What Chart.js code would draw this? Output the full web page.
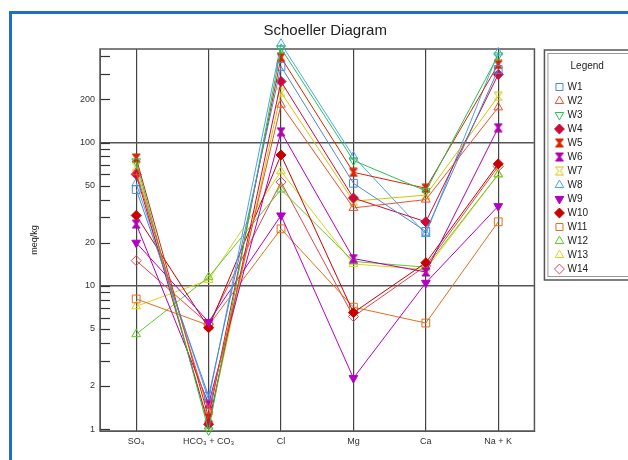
<!DOCTYPE html>
<html>
<head>
<meta charset="utf-8">
<script src="https://cdn.jsdelivr.net/npm/chart.js@4.4.1/dist/chart.umd.min.js"></script>
<style>
  html, body { margin: 0; padding: 0; background: #fff; }
  #wrap { width: 628px; height: 460px; }
</style>
</head>
<body>
<div id="wrap"><canvas id="chart" width="628" height="460"></canvas></div>
<script>
// ---- data (meq/kg) ----
const categories = ['SO\u2084', 'HCO\u2083 + CO\u2083', 'Cl', 'Mg', 'Ca', 'Na + K'];
const tickValues = [1, 2, 3, 4, 5, 6, 7, 8, 9, 10, 20, 30, 40, 50, 60, 70, 80, 90, 100, 200, 300, 400];
const labeledTicks = [1, 2, 5, 10, 20, 50, 100, 200];
const gridValues = [10, 100];
const seriesNames = ['W1', 'W2', 'W3', 'W4', 'W5', 'W6', 'W7', 'W8', 'W9', 'W10', 'W11', 'W12', 'W13', 'W14'];

const w1  = [47,  1.7,  340, 52,   24,   324];
const w2  = [62,  1.35, 184, 35,   40,   176];
const w3  = [74,  0.98, 455, 75,   46,   406];
const w4  = [60,  1.08, 267, 41,   28,   299];
const w5  = [78,  1.2,  393, 62,   48,   351];
const w6  = [27,  1.5,  119, 15.5, 12.5, 127];
const w7  = [68,  1.05, 224, 39,   43,   210];
const w8  = [52,  1.6,  490, 80,   23,   426];
const w9  = [20,  5.6,  31,  2.27, 10.5, 36];
const w10 = [31,  5.1,  82,  6.5,  14.5, 71];
const w11 = [8.1, 5.3,  25,  7.1,  5.5,  28];
const w12 = [4.6, 11.5, 47,  14.8, 13.5, 60];
const w13 = [7.2, 11,   63,  14.2, 13,   60];
const w14 = [15,  5.4,  53,  6.1,  13.8, 68];
const seriesValues = [w1, w2, w3, w4, w5, w6, w7, w8, w9, w10, w11, w12, w13, w14];

// ---- marker styles ----
function hourglass(color, filled) {
    const c = document.createElement('canvas');
    c.width = c.height = 10;
    const g = c.getContext('2d');
    g.beginPath();
    g.moveTo(1, 1); g.lineTo(9, 1); g.lineTo(5.8, 5);
    g.lineTo(9, 9); g.lineTo(1, 9); g.lineTo(4.2, 5);
    g.closePath();
    g.strokeStyle = color;
    g.lineWidth = 1;
    if (filled) { g.fillStyle = color; g.fill(); }
    g.stroke();
    return c;
}

const markers = [
    { color: '#4f86d6', style: 'rect',     filled: false, rot: 0 },
    { color: '#e5532f', style: 'triangle', filled: false, rot: 0 },
    { color: '#27c24f', style: 'triangle', filled: false, rot: 180 },
    { color: '#cc0a3c', style: 'rectRot',  filled: true,  rot: 0 },
    { color: '#d82400', style: 'hour',     filled: true,  rot: 0 },
    { color: '#b000b0', style: 'hour',     filled: true,  rot: 0 },
    { color: '#d2c600', style: 'hour',     filled: false, rot: 0 },
    { color: '#4aa6e6', style: 'triangle', filled: false, rot: 0 },
    { color: '#b400c4', style: 'triangle', filled: true,  rot: 180 },
    { color: '#c80000', style: 'rectRot',  filled: true,  rot: 0 },
    { color: '#e0701c', style: 'rect',     filled: false, rot: 0 },
    { color: '#62c82a', style: 'triangle', filled: false, rot: 0 },
    { color: '#dcd21e', style: 'triangle', filled: false, rot: 0 },
    { color: '#e04848', style: 'rectRot',  filled: false, rot: 0 },
];

const datasets = seriesNames.map((name, i) => {
    const m = markers[i];
    const ps = m.style === 'hour' ? hourglass(m.color, m.filled) : m.style;
    return {
        label: name,
        data: seriesValues[i],
        borderColor: m.color,
        backgroundColor: m.filled ? m.color : 'rgba(255,255,255,0)',
        borderWidth: 1,
        pointStyle: ps,
        pointRotation: m.rot,
        pointRadius: m.style === 'rect' ? 5.5 : 5,
        pointBorderWidth: 1,
        pointBorderColor: m.color,
        pointBackgroundColor: m.filled ? m.color : 'rgba(255,255,255,0)',
        tension: 0,
        clip: false,
    };
});

// window frame, plot box, inner minor ticks, legend box
const decorations = {
    id: 'decorations',
    afterLayout(chart) {
        // nudge chart title and legend title a little to the right, like the original
        if (chart.titleBlock) chart.titleBlock.right += 16;
        if (chart.legend) {
            chart.legend.width += 24;
            chart.legend.right += 24;
        }
    },
    beforeDraw(chart) {
        const ctx = chart.ctx;
        ctx.save();
        ctx.fillStyle = '#1f6fc6';
        ctx.fillRect(9, 11, 640, 3);
        ctx.fillRect(9, 11, 3, 460);
        ctx.restore();
    },
    beforeDatasetsDraw(chart) {
        const {ctx, chartArea: a} = chart;
        const y = chart.scales.y;
        ctx.save();
        ctx.strokeStyle = '#333';
        ctx.lineWidth = 1.2;
        tickValues.forEach(v => {
            const py = Math.round(y.getPixelForValue(v)) + 0.5;
            ctx.beginPath();
            ctx.moveTo(a.left, py);
            ctx.lineTo(a.left + 10, py);
            ctx.stroke();
        });
        ctx.strokeStyle = '#555';
        ctx.lineWidth = 1.5;
        ctx.strokeRect(a.left, a.top, a.right - a.left, a.bottom - a.top);
        ctx.restore();
    },
    afterDraw(chart) {
        const ctx = chart.ctx;
        const lg = chart.legend;
        const x0 = lg.left - 8;
        ctx.save();
        ctx.strokeStyle = '#555';
        ctx.lineWidth = 1.5;
        ctx.strokeRect(x0, 50, 700 - x0, 230);
        ctx.strokeStyle = '#999';
        ctx.lineWidth = 1;
        ctx.strokeRect(x0 + 3.5, 53.5, 700 - x0, 223);
        ctx.restore();
    }
};

const tickFont = { family: 'Liberation Sans, Arial, sans-serif', size: 9 };

new Chart(document.getElementById('chart'), {
    type: 'line',
    data: { labels: categories, datasets },
    plugins: [decorations],
    options: {
        responsive: false,
        animation: false,
        events: [],
        layout: { padding: { left: 12, top: 14, right: 30, bottom: 0 } },
        plugins: {
            title: {
                display: true,
                text: 'Schoeller Diagram',
                color: '#222',
                fullSize: false,
                font: { family: 'Liberation Sans, Arial, sans-serif', size: 15, weight: 'normal' },
                padding: { top: 8, bottom: 9 },
            },
            legend: {
                position: 'right',
                align: 'start',
                fullSize: false,
                labels: {
                    usePointStyle: true,
                    boxWidth: 6,
                    boxHeight: 7,
                    padding: 4,
                    color: '#222',
                    font: { family: 'Liberation Sans, Arial, sans-serif', size: 10 },
                },
                title: {
                    display: true,
                    text: 'Legend',
                    color: '#222',
                    font: { family: 'Liberation Sans, Arial, sans-serif', size: 10 },
                    padding: { top: 12, bottom: 5 },
                },
            },
            tooltip: { enabled: false },
        },
        scales: {
            x: {
                type: 'category',
                offset: true,
                grid: { offset: false, color: '#444', lineWidth: 1.2, drawTicks: false },
                border: { display: true, color: '#555' },
                ticks: { padding: 5, color: '#333', font: tickFont, maxRotation: 0 },
                afterFit: s => { s.height = 29; },
            },
            y: {
                type: 'logarithmic',
                position: 'left',
                min: 0.97,
                max: 450,
                grid: {
                    color: c => gridValues.includes(c.tick.value) ? '#555' : 'rgba(0,0,0,0)',
                    lineWidth: 1.5,
                    drawTicks: false,
                },
                border: { display: true, color: '#555' },
                ticks: {
                    padding: 5,
                    color: '#333',
                    font: tickFont,
                    autoSkip: false,
                    callback: v => labeledTicks.includes(v) ? String(v) : '',
                },
                afterBuildTicks: s => { s.ticks = tickValues.map(v => ({ value: v })); },
                title: {
                    display: true,
                    text: 'meq/kg',
                    color: '#222',
                    font: { family: 'Liberation Sans, Arial, sans-serif', size: 9 },
                    padding: { top: 17, bottom: 0 },
                },
                afterFit: s => { s.width = 88; },
            },
            gap: {
                type: 'linear',
                position: 'right',
                grid: { display: false, drawTicks: false },
                border: { display: false },
                ticks: { display: false },
                afterFit: s => { s.width = 18; },
            },
        },
    },
});
</script>
</body>
</html>
